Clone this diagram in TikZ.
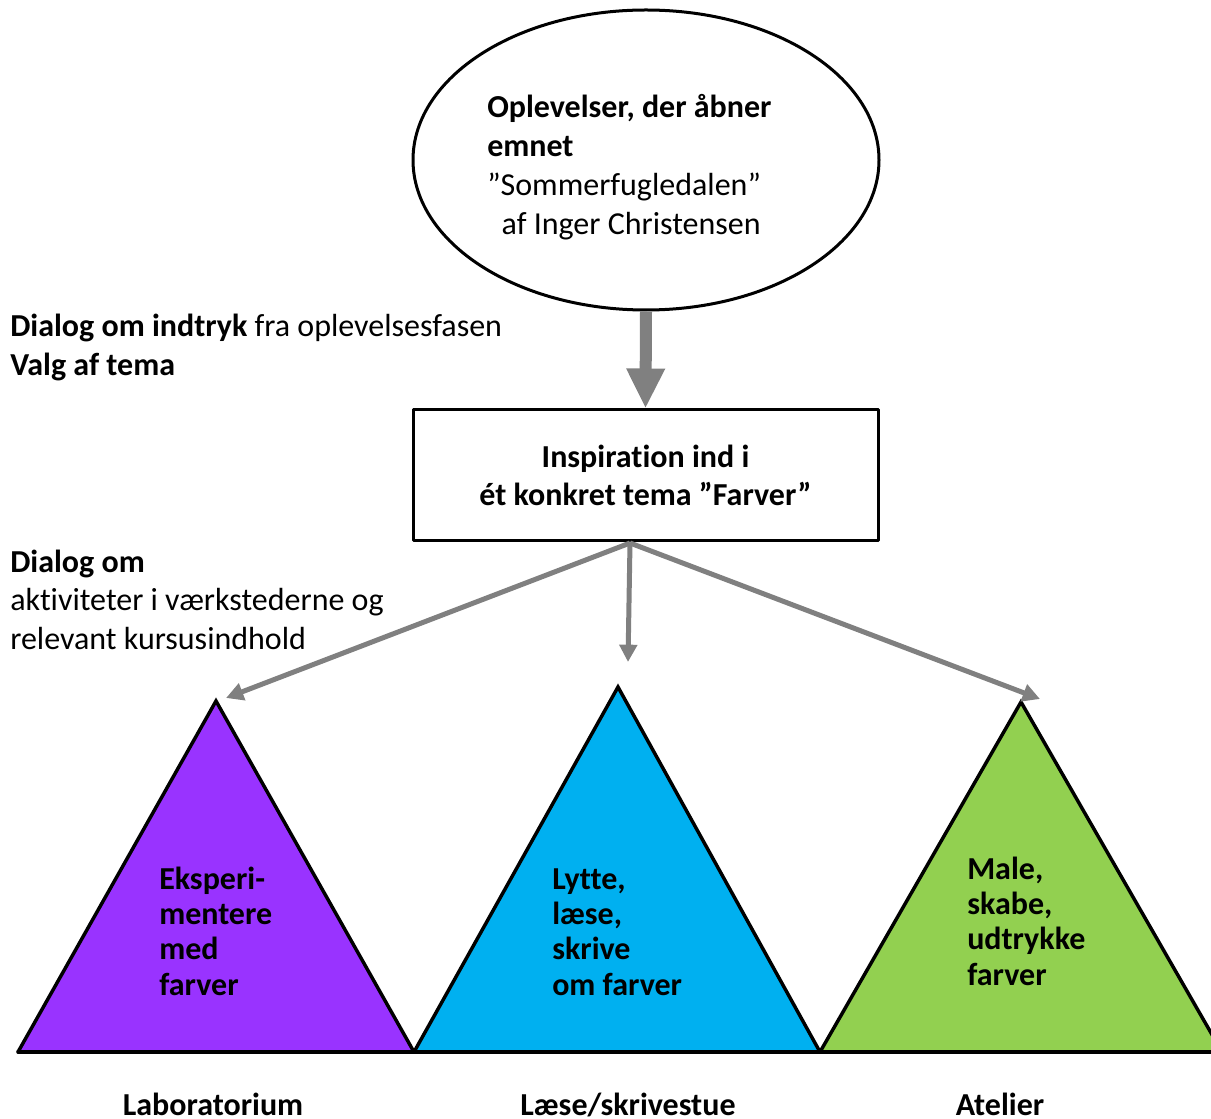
\documentclass[tikz,border=0pt]{standalone}
\usepackage{fontspec}
\setmainfont{Carlito}[Ligatures={NoCommon}]
\usetikzlibrary{arrows.meta,shapes.geometric}
\definecolor{lilla}{HTML}{9933FF}
\definecolor{blaa}{HTML}{00B0F0}
\definecolor{groen}{HTML}{92D050}
\definecolor{graa}{HTML}{808080}

\begin{document}
\begin{tikzpicture}[line cap=round,line join=round,>={Triangle[length=13pt,width=13pt]},x=0.75pt,y=-0.75pt,
		tekst/.style={font=\fontsize{24}{29.25}\selectfont,align=left,inner sep=0pt,anchor=base west},
		trekanttekst/.style={font=\fontsize{24}{26.4}\selectfont\bfseries,align=left,inner sep=0pt,anchor=base west},
		etiket/.style={font=\fontsize{24}{28}\selectfont\bfseries,inner sep=0pt,anchor=base},
		tynd/.style={->,draw=graa,line width=3.75pt,line cap=butt},
		trekant/.style={draw=black,line width=2.6pt,line join=miter}]
	\useasboundingbox (0,0) rectangle (1211,1119);
	% oplevelse og tema
	\node[ellipse,draw,line width=2.25pt,minimum width=349.5pt,minimum height=225pt,inner sep=0pt] (ell) at (646,160) {};
	\node[tekst] (elltekst) at (487,235) {\textbf{Oplevelser, der åbner}\\\textbf{emnet}\\”Sommerfugledalen”\\\hspace{0.45em}af Inger Christensen};
	\node[draw,line width=2.25pt,minimum width=348.75pt,minimum height=98.25pt,inner sep=0pt,align=center,font=\fontsize{24}{29}\selectfont\bfseries] (insp) at (645.5,475.5) {Inspiration ind i\\ét konkret tema ”Farver”};
	\draw[->,draw=graa,line width=9pt,line cap=butt,>={Triangle[length=30pt,width=27pt]}] (ell.south) -- (insp.north);
	% dialog
	\node[tekst] (dialog1) at (10,376) {\textbf{Dialog om indtryk} fra oplevelsesfasen\\\textbf{Valg af tema}};
	\node[tekst] (dialog2) at (10,650) {\textbf{Dialog om}\\aktiviteter i værkstederne og\\relevant kursusindhold};
	% vaerksteder
	\coordinate (A1) at (216,701);
	\coordinate (A2) at (618,687);
	\coordinate (A3) at (1021,702);
	\fill[lilla] (18,1052) -- (A1) -- (414,1052) -- cycle;
	\fill[blaa] (414,1052) -- (A2) -- (820,1052) -- cycle;
	\fill[groen] (820,1052) -- (A3) -- (1222,1052) -- cycle;
	\draw[trekant] (18,1052) -- (A1) -- (414,1052);
	\draw[trekant] (414,1052) -- (A2) -- (820,1052);
	\draw[trekant] (820,1052) -- (A3) -- (1222,1052);
	\draw[trekant] (18,1052) -- (1222,1052);
	% pile
	\coordinate (fork) at (630,543);
	\coordinate (p1) at (226,698);
	\coordinate (p2) at (628,662);
	\coordinate (p3) at (1040,699);
	\draw[tynd] (fork) -- (p1);
	\draw[tynd] (fork) -- (p2);
	\draw[tynd] (fork) -- (p3);
	% tekster
	\node[trekanttekst] (lab) at (159,995) {Eksperi-\\mentere\\med\\farver};
	\node[trekanttekst] (les) at (552,995) {Lytte,\\læse,\\skrive\\om farver};
	\node[trekanttekst] (ate) at (967,985) {Male,\\skabe,\\udtrykke\\farver};
	\node[etiket] (lab2) at (213,1115) {Laboratorium};
	\node[etiket] (les2) at (628,1115) {Læse/skrivestue};
	\node[etiket] (ate2) at (1000,1115) {Atelier};
\end{tikzpicture}
\end{document}
